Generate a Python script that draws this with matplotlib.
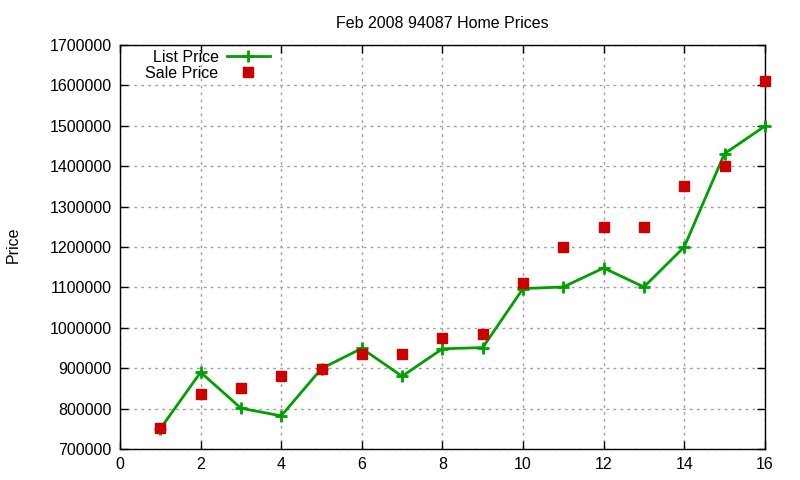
import numpy as np
import matplotlib
matplotlib.use("Agg")
import matplotlib.pyplot as plt

plt.rcParams['font.family'] = ['Liberation Sans', 'DejaVu Sans']

house = [1, 2, 3, 4, 5, 6, 7, 8, 9, 10, 11, 12, 13, 14, 15, 16]
list_price = [750000, 890000, 801000, 782000, 899000, 949000, 880000, 948000,
              951000, 1097000, 1101000, 1148000, 1101000, 1200000, 1431000, 1499000]
sale_price = [751000, 837000, 852000, 881000, 899000, 934000, 936000, 975000,
              985000, 1112000, 1200000, 1250000, 1250000, 1351000, 1400000, 1610000]

fig = plt.figure(figsize=(8, 4.8), dpi=100)
ax = fig.add_axes([0.15, 0.0646, 0.806, 0.8417])

ax.plot(house, list_price, color='#00a000', linewidth=2, marker='+',
        markersize=9, markeredgewidth=2, label='List Price', zorder=3,
        clip_on=False)
ax.plot(house, sale_price, linestyle='none', color='#cc0000', marker='s',
        markersize=7, label='Sale Price', zorder=4, clip_on=False)

ax.set_xlim(0, 16)
ax.set_ylim(700000, 1700000)
ax.set_xticks(np.arange(0, 17, 2))
ax.set_yticks(np.arange(700000, 1700001, 100000))
ax.ticklabel_format(axis='y', style='plain', useOffset=False)
ax.tick_params(direction='in', length=6, top=True, right=True, labelsize=11.5,
               width=1, pad=6)
ax.grid(color='#a0a0a0', linestyle=(0, (2, 3)), linewidth=1)
for s in ax.spines.values():
    s.set_linewidth(1)

ax.set_title('Feb 2008 94087 Home Prices', fontsize=11.5, pad=12)
fig.text(0.016, 0.49, 'Price', rotation=90, fontsize=11.5, va='center', ha='center')

ax.legend(loc='upper left', bbox_to_anchor=(0.027, 1.008), frameon=False,
          markerfirst=False, fontsize=11.5, handlelength=2.7, handletextpad=0.5,
          borderaxespad=0.2, labelspacing=0.05, borderpad=0.3)

fig.savefig('out.png', dpi=100)
